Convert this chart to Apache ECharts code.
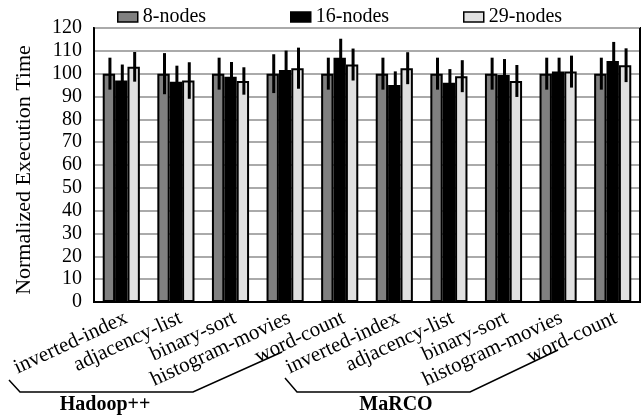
<!DOCTYPE html>
<html>
<head>
<meta charset="utf-8">
<script src="https://cdn.jsdelivr.net/npm/echarts@6/dist/echarts.min.js"></script>
<style>
  html, body { margin: 0; padding: 0; background: #fff; }
  #main { width: 643px; height: 419px; }
</style>
</head>
<body>
<div id="main"></div>
<script>
// workloads, Hadoop++ first then MaRCO
const categories = ['inverted-index', 'adjacency-list', 'binary-sort', 'histogram-movies', 'word-count',
                    'inverted-index', 'adjacency-list', 'binary-sort', 'histogram-movies', 'word-count']
const seriesNames = ['8-nodes', '16-nodes', '29-nodes']
const nodes8 = [100, 100, 100, 100, 100, 100, 100, 100, 100, 100]
const nodes16 = [97, 96.5, 98.6, 101.6, 107, 95, 96, 99.4, 101, 105.6]
const nodes29 = [103, 97, 96.8, 102.4, 104, 102.4, 98.9, 96.8, 100.9, 103.7]
const err8 = [7, 9, 7, 8.5, 7, 7, 7, 7, 7, 7]
const err16 = [7, 7, 6.5, 8.5, 8.3, 6, 6, 7, 6, 8.3]
const err29 = [6.5, 8, 6, 9, 7, 7, 7, 7, 7, 7.4]
const yTicks = [0, 10, 20, 30, 40, 50, 60, 70, 80, 90, 100, 110, 120]
const groupNames = ['Hadoop++', 'MaRCO']

const font = 'Liberation Serif'
const colors = ['#808080', '#000000', '#e0e0e0']
const catGap = 0.32
const legendLeft = [117, 290, 463]

const chart = echarts.init(document.getElementById('main'))

function errSeries (k, vals, errs) {
    return {
        name: 'err' + k,
        type: 'custom',
        z: 10,
        data: vals.map((v, i) => [i, v, errs[i]]),
        renderItem (params, api) {
            const i = api.value(0)
            const v = api.value(1)
            const e = api.value(2)
            const band = api.size([1, 0])[0]
            const bw = band * (1 - catGap) / 3
            const x = api.coord([i, v])[0] + (k - 1) * bw + 1
            const top = api.coord([i, v + e])[1]
            const bot = api.coord([i, v - e])[1]
            return {
                type: 'line',
                shape: { x1: x, y1: top, x2: x, y2: bot },
                style: { stroke: '#000', lineWidth: 3 }
            }
        }
    }
}

const barData = [nodes8, nodes16, nodes29]
const errData = [err8, err16, err29]

const option = {
    animation: false,
    textStyle: { fontFamily: font },
    legend: seriesNames.map((name, k) => ({
        data: [name],
        left: legendLeft[k],
        top: 7,
        padding: 0,
        itemWidth: 20,
        itemHeight: 10,
        itemGap: 5,
        icon: 'rect',
        itemStyle: { borderColor: '#000', borderWidth: 1.5 },
        textStyle: { fontFamily: font, fontSize: 20, color: '#000' }
    })),
    grid: [
        {
            left: 94,
            right: 3,
            top: 28,
            bottom: 117,
            show: true,
            borderColor: '#000',
            borderWidth: 2
        },
        // label-only grid, nudged right so the rotated names end past the bar centres
        { left: 99, right: -2, top: 28, bottom: 117 }
    ],
    xAxis: [
        {
            type: 'category',
            data: categories,
            axisTick: { show: false },
            axisLine: { lineStyle: { color: '#000', width: 2 } },
            splitLine: {
                show: true,
                interval: (index) => index === 5,
                lineStyle: { color: '#000', width: 2 }
            },
            axisLabel: { show: false }
        },
        {
            type: 'category',
            gridIndex: 1,
            data: categories,
            axisTick: { show: false },
            axisLine: { show: false },
            axisLabel: {
                interval: 0,
                rotate: 25,
                margin: 15,
                fontFamily: font,
                fontSize: 21,
                color: '#000'
            }
        }
    ],
    yAxis: [
        {
            type: 'value',
            min: yTicks[0],
            max: yTicks[yTicks.length - 1],
            interval: 10,
            name: 'Normalized Execution Time',
            nameLocation: 'middle',
            nameGap: 59,
            nameTextStyle: { fontFamily: font, fontSize: 22, color: '#000', padding: [0, 10, 0, 0] },
            axisTick: { show: false },
            axisLine: { show: true, lineStyle: { color: '#000', width: 2 } },
            splitLine: { lineStyle: { color: '#aaaaaa', width: 2 } },
            axisLabel: { fontFamily: font, fontSize: 20, color: '#000', margin: 12 }
        },
        { type: 'value', gridIndex: 1, show: false }
    ],
    series: seriesNames.map((name, k) => ({
        name,
        type: 'bar',
        data: barData[k],
        barGap: '0%',
        barCategoryGap: (catGap * 100) + '%',
        itemStyle: { color: colors[k], borderColor: '#000', borderWidth: 2 }
    })).concat(errData.map((e, k) => errSeries(k, barData[k], e))),
    graphic: [
        {
            type: 'polyline',
            shape: { points: [[9, 380], [20, 392], [193, 392], [282, 352]] },
            style: { stroke: '#000', lineWidth: 1.5, fill: null }
        },
        {
            type: 'polyline',
            shape: { points: [[285, 378], [297, 392], [470, 392], [558, 350]] },
            style: { stroke: '#000', lineWidth: 1.5, fill: null }
        },
        {
            type: 'text',
            x: 105,
            y: 405,
            style: { text: groupNames[0], font: 'bold 20px "Liberation Serif"', fill: '#000', align: 'center', verticalAlign: 'middle' }
        },
        {
            type: 'text',
            x: 396,
            y: 405,
            style: { text: groupNames[1], font: 'bold 20px "Liberation Serif"', fill: '#000', align: 'center', verticalAlign: 'middle' }
        }
    ]
}

chart.setOption(option)
</script>
</body>
</html>
